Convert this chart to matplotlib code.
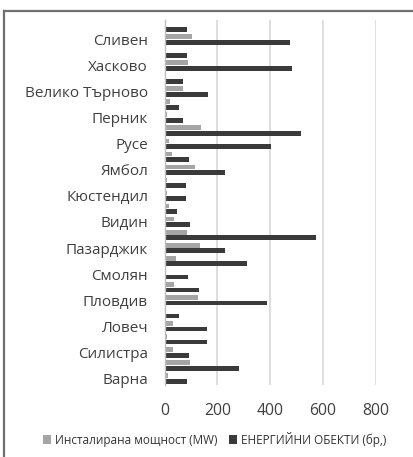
import matplotlib
matplotlib.use("Agg")
import matplotlib.pyplot as plt
from matplotlib.lines import Line2D
import numpy as np

plt.rcParams['font.family'] = ['Open Sans', 'DejaVu Sans']

# Regions listed bottom-to-top; every other region carries a visible label
region_labels = ["Варна", "", "Силистра", "", "Ловеч", "", "Пловдив", "",
                 "Смолян", "", "Пазарджик", "", "Видин", "", "Кюстендил", "",
                 "Ямбол", "", "Русе", "", "Перник", "", "Велико Търново", "",
                 "Хасково", "", "Сливен", ""]

installed_mw = [13, 96, 33, 8, 33, 4, 127, 37, 4, 44, 135, 83, 37, 16,
                8, 8, 115, 29, 16, 139, 8, 20, 68, 4, 87, 4, 103, 4]

energy_sites = [83, 280, 92, 161, 161, 55, 387, 131, 87, 311, 229, 575, 96, 45,
                79, 79, 229, 92, 402, 517, 68, 55, 166, 68, 481, 83, 474, 83]

series_names = ["Инсталирана мощност (MW)", "ЕНЕРГИЙНИ ОБЕКТИ (бр,)"]
x_ticks = [0, 200, 400, 600, 800]

light = "#a5a5a5"
dark = "#3a3a3a"
text_col = "#404040"

fig = plt.figure(figsize=(4.13, 4.57), dpi=100)
ax = fig.add_axes([0.3988, 0.158, 0.5109, 0.7982])

y = np.arange(len(region_labels))
h = 0.37
off = 0.22
ax.barh(y + off, installed_mw, height=h, color=light, label=series_names[0], zorder=3)
ax.barh(y - off, energy_sites, height=h, color=dark, label=series_names[1], zorder=3)

ax.set_xlim(0, 800)
ax.set_ylim(-0.5, len(region_labels) - 0.5)
ax.set_xticks(x_ticks)
ax.set_xticklabels([str(t) for t in x_ticks])
ax.set_yticks(y)
ax.set_yticklabels(region_labels)

ax.grid(axis='x', color="#d4d4d4", linewidth=1.1, zorder=0)
ax.set_axisbelow(True)
for s in ["top", "right", "bottom"]:
    ax.spines[s].set_visible(False)
ax.spines["left"].set_color("#bfbfbf")
ax.spines["left"].set_linewidth(1.0)
ax.spines["left"].set_zorder(4)

ax.tick_params(axis='x', length=0, pad=13, labelsize=11.3, labelcolor=text_col)
ax.tick_params(axis='y', length=0, pad=12, labelsize=11, labelcolor=text_col)

fig.legend(loc='center', bbox_to_anchor=(0.519, 0.039), ncol=2, frameon=False,
           fontsize=8.5, handlelength=0.7, handleheight=0.7, handletextpad=0.3,
           columnspacing=1.0, labelcolor="#333333", borderaxespad=0)

# Chart frame edges
fig.add_artist(Line2D([4 / 413, 1], [1 - 11 / 457, 1 - 11 / 457],
                      transform=fig.transFigure, color="#6f6f6f", linewidth=1.6))
fig.add_artist(Line2D([4 / 413, 4 / 413], [0, 1 - 11 / 457],
                      transform=fig.transFigure, color="#6f6f6f", linewidth=1.6))

fig.savefig("out.png", dpi=100, facecolor="white")
